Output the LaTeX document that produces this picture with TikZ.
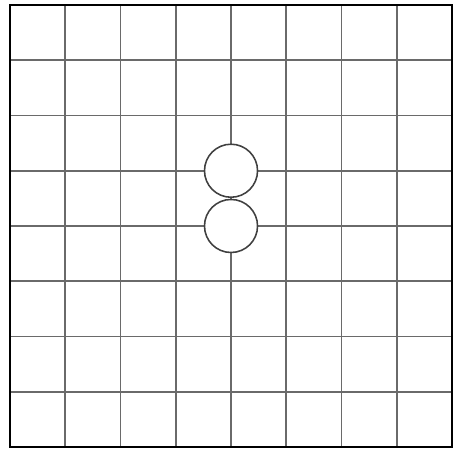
\documentclass[tikz,border=0pt]{standalone}
\usepackage{tikz}
\definecolor{boardline}{HTML}{6A6A6A}
\definecolor{stoneline}{HTML}{404040}
\tikzset{
  gridline/.style={boardline,line width=0.9pt},
  borderline/.style={black,line width=1.4pt},
  stone/.style={circle,draw=stoneline,fill=white,line width=0.8pt,minimum size=0.96cm,inner sep=0pt}
}
\begin{document}
\begin{tikzpicture}[scale=1.0]
  \useasboundingbox (-0.181,-0.036) rectangle (8.09,8.09);
  \foreach \i in {1,...,7}{
    \draw[gridline] (\i,0)--(\i,8);
    \draw[gridline] (0,\i)--(8,\i);
  }
  \draw[borderline] (0,0) rectangle (8,8);
  \node[stone] (upper) at (4,5) {};
  \node[stone] (lower) at (4,4) {};
\end{tikzpicture}
\end{document}
